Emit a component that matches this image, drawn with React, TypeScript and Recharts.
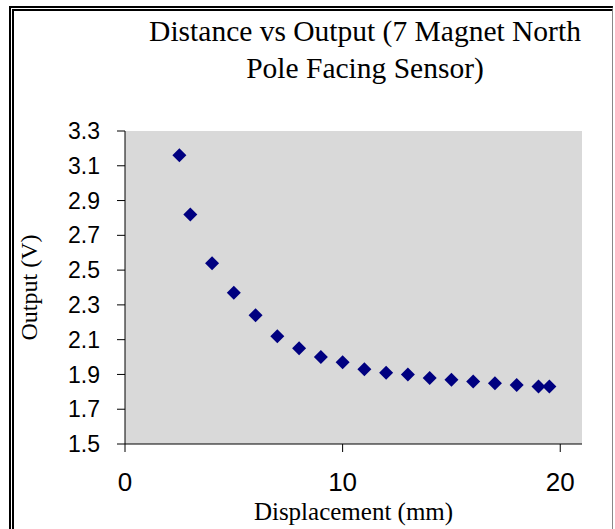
import { ScatterChart, Scatter, XAxis, YAxis, CartesianGrid } from "recharts";

const displacement = [2.5, 3, 4, 5, 6, 7, 8, 9, 10, 11, 12, 13, 14, 15, 16, 17, 18, 19, 19.5];
const output = [3.16, 2.82, 2.54, 2.37, 2.24, 2.12, 2.05, 2.0, 1.97, 1.93, 1.91, 1.9, 1.88, 1.87, 1.86, 1.85, 1.84, 1.83, 1.83];
const xTicks = [0, 10, 20];
const yTicks = [1.5, 1.7, 1.9, 2.1, 2.3, 2.5, 2.7, 2.9, 3.1, 3.3];
const titleLines = ["Distance vs Output (7 Magnet North", "Pole Facing Sensor)"];

const data = displacement.map((x, i) => ({ x, y: output[i] }));

const SERIF = '"Liberation Serif", "Times New Roman", serif';
const SANS = '"Liberation Sans", Arial, sans-serif';

const Diamond = (props: { cx?: number; cy?: number }) => {
  const { cx = 0, cy = 0 } = props;
  const r = 7;
  return <path d={`M${cx},${cy - r}L${cx + r},${cy}L${cx},${cy + r}L${cx - r},${cy}Z`} fill="#000080" />;
};

// rotated y-axis title, centred on the plot height
const YTitle = (props: { viewBox?: { x: number; y: number; width: number; height: number } }) => {
  const vb = props.viewBox;
  if (!vb) return null;
  const x = vb.x - 28;
  const y = vb.y + vb.height / 2;
  return (
    <text x={x} y={y} transform={`rotate(-90 ${x} ${y})`} textAnchor="middle" fontSize={24} fill="#000" fontFamily={SERIF}>
      Output (V)
    </text>
  );
};

export default function App() {
  return (
    <div style={{ position: "absolute", left: 0, top: 0, width: 615, height: 529, background: "#fff", overflow: "hidden" }}>
      <div
        style={{
          position: "absolute", left: 9, top: 6, width: 598, height: 540,
          borderTop: "5px double #000", borderLeft: "5px double #000", borderRight: "1px solid #888",
        }}
      />
      <div style={{ position: "absolute", left: 0, top: 13, width: 730, textAlign: "center", fontFamily: SERIF, fontSize: 29.5, lineHeight: "37px", color: "#000" }}>
        {titleLines.map((t) => (
          <div key={t}>{t}</div>
        ))}
      </div>
      <ScatterChart width={615} height={529} margin={{ top: 131, right: 33, left: 65, bottom: 35 }} style={{ position: "absolute", left: 0, top: 0 }}>
        <CartesianGrid fill="#D9D9D9" horizontal={false} vertical={false} />
        <XAxis
          type="number"
          dataKey="x"
          domain={[0, 21]}
          ticks={xTicks}
          height={50}
          tickSize={8}
          tickMargin={21}
          axisLine={{ stroke: "#000" }}
          tickLine={{ stroke: "#000" }}
          tick={{ fontSize: 26, fill: "#000", fontFamily: SANS }}
          label={{ value: "Displacement (mm)", position: "bottom", offset: 8, fontSize: 25, fill: "#000", fontFamily: SERIF }}
        />
        <YAxis
          type="number"
          dataKey="y"
          domain={[1.5, 3.3]}
          ticks={yTicks}
          width={60}
          tickSize={8}
          tickMargin={17}
          axisLine={{ stroke: "#000" }}
          tickLine={{ stroke: "#000" }}
          tickFormatter={(v: number) => v.toFixed(1)}
          tick={{ fontSize: 23, fill: "#000", fontFamily: SANS }}
          label={<YTitle />}
        />
        <Scatter data={data} shape={<Diamond />} isAnimationActive={false} />
      </ScatterChart>
    </div>
  );
}
